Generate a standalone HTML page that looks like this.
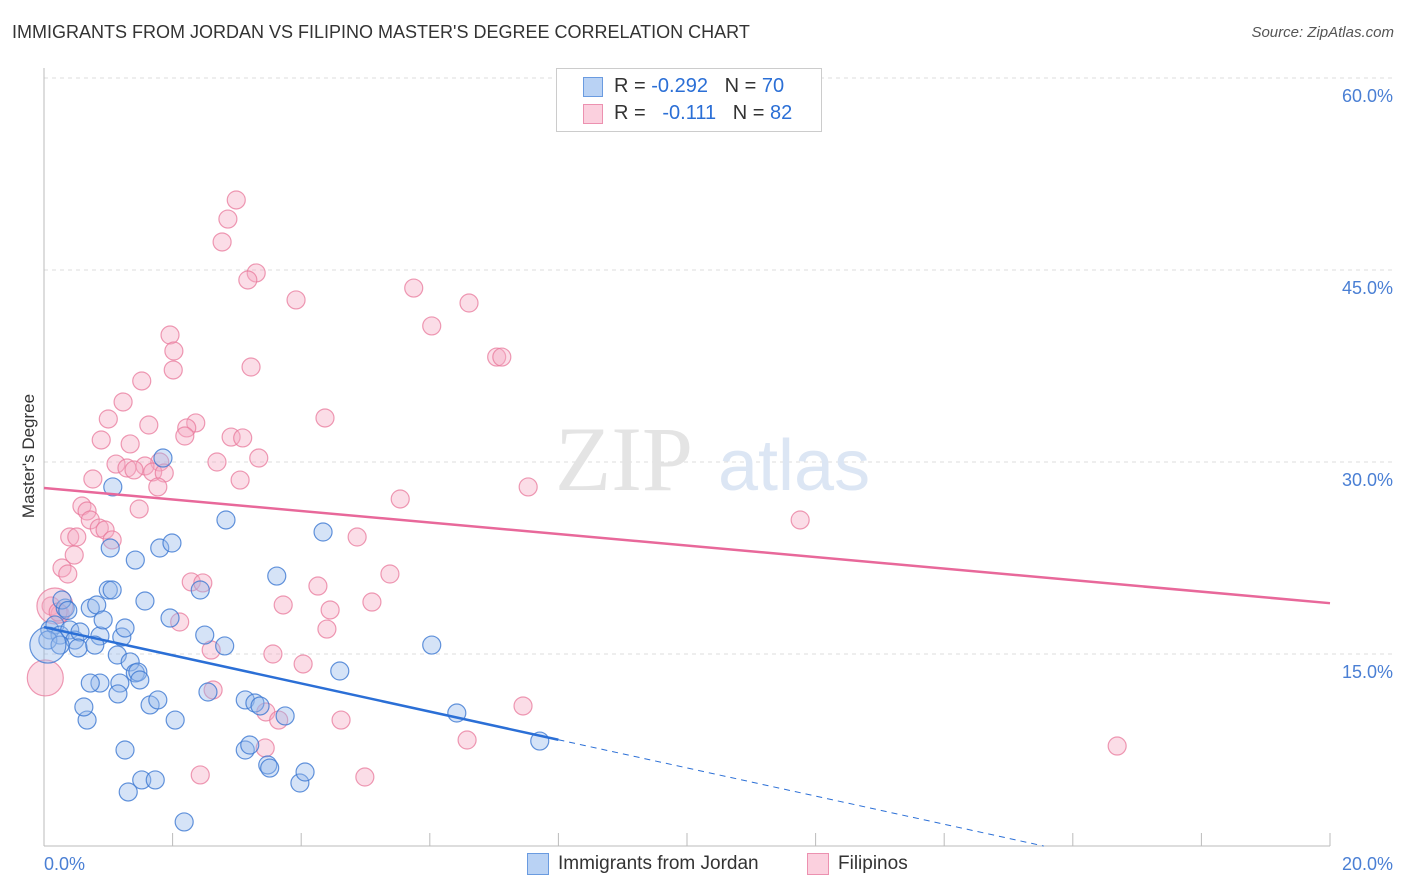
<!DOCTYPE html>
<html><head><meta charset="utf-8"><style>
body{margin:0;background:#fff;font-family:"Liberation Sans",sans-serif;}
#wrap{position:relative;width:1406px;height:892px;overflow:hidden;}
.t{position:absolute;white-space:nowrap;}
</style></head><body>
<div id="wrap">
<div class="t" style="left:12px;top:22px;font-size:18px;color:#333;">IMMIGRANTS FROM JORDAN VS FILIPINO MASTER'S DEGREE CORRELATION CHART</div>
<div class="t" style="right:12px;top:24px;font-size:15px;color:#555;font-style:italic;">Source: ZipAtlas.com</div>
<svg id="svg" width="1406" height="892" style="position:absolute;left:0;top:0"></svg>
</div>
<script>
const xTicks=[0,20];
const yTicks=[15,30,45,60];
const blueX=[0.09,0.17,0.25,0.06,0.33,0.28,0.40,0.48,0.56,0.53,0.72,0.82,0.87,0.79,0.92,1.00,1.03,1.07,1.06,1.14,1.21,1.26,1.18,1.34,1.42,1.46,1.49,1.57,1.42,1.65,1.77,1.80,1.85,1.96,1.99,2.04,2.43,2.50,2.55,2.81,2.83,3.13,3.13,3.20,3.28,3.36,3.48,3.51,3.62,3.75,3.98,4.06,4.34,4.60,6.03,6.42,7.71,1.26,1.52,1.73,1.31,2.18,0.67,0.62,0.87,0.72,1.15,0.25,0.06,0.37];
const blueY=[16.88,17.27,16.48,16.09,18.59,19.22,16.88,16.09,16.72,15.47,18.59,18.83,16.41,15.70,17.66,20.00,23.28,28.05,20.00,14.92,16.33,17.03,12.73,14.38,13.52,13.59,12.97,19.14,22.34,11.02,11.41,23.28,30.31,17.81,23.67,9.84,20.00,16.48,12.03,15.63,25.47,11.41,7.50,7.89,11.17,10.94,6.33,6.09,21.09,10.16,4.92,5.78,24.53,13.67,15.70,10.39,8.20,7.50,5.16,5.16,4.22,1.88,9.84,10.86,12.73,12.73,11.88,15.70,15.70,18.4];
const pinkX=[2.99,2.86,2.77,3.30,3.17,3.92,5.75,6.61,6.03,7.04,7.12,1.96,2.02,2.01,3.22,1.52,1.23,1.00,4.37,2.36,2.22,1.63,2.19,2.91,3.09,0.89,1.34,3.34,2.69,1.80,1.12,1.57,1.29,1.40,1.69,1.87,1.77,3.05,0.76,7.53,5.54,0.59,0.67,1.48,0.72,11.76,0.86,0.95,0.40,0.51,1.06,4.87,0.47,0.28,0.37,5.38,2.29,2.47,4.26,0.11,0.25,3.72,4.45,5.10,2.11,4.40,2.60,3.56,4.03,2.63,3.45,3.65,4.62,7.45,6.58,3.44,2.43,4.99,16.69,0.02,0.17,0.22];
const pinkY=[50.47,48.98,47.19,44.77,44.22,42.66,43.59,42.42,40.63,38.20,38.20,39.92,38.67,37.19,37.42,36.33,34.69,33.36,33.44,33.05,32.66,32.89,32.03,31.95,31.88,31.72,31.41,30.31,30.00,30.00,29.84,29.69,29.53,29.38,29.22,29.14,28.05,28.59,28.67,28.05,27.11,26.56,26.17,26.33,25.47,25.47,24.84,24.69,24.14,24.14,23.91,24.14,22.73,21.72,21.25,21.25,20.63,20.55,20.31,18.75,18.13,18.83,18.44,19.06,17.50,16.95,15.31,15.00,14.22,12.19,10.47,9.84,9.84,10.94,8.28,7.66,5.55,5.39,7.81,13.13,18.75,18.28];
const blueTrend=[17.1,-1.1];
const pinkTrend=[27.97,-0.45];
const X=v=>44+v/20*1286;
const Y=v=>846-v/15*192;
const svg=document.getElementById('svg');
const NS='http://www.w3.org/2000/svg';
function mk(tag,a){const e=document.createElementNS(NS,tag);for(const k in a)e.setAttribute(k,a[k]);svg.appendChild(e);return e;}
// gridlines
yTicks.forEach(t=>{
 const g=mk('line',{x1:44,x2:1394,y1:Y(t),y2:Y(t),stroke:'#ddd','stroke-dasharray':'4,4'});
 
 
 const tx=mk('text',{x:1393,y:Y(t)+24,'text-anchor':'end','font-size':18,fill:'#4a7fd4','font-family':'Liberation Sans'});
 tx.textContent=t.toFixed(1)+'%';
 
 
});
const ax=mk('line',{x1:44,x2:44,y1:68,y2:846,stroke:'#bbb'});


const bx=mk('line',{x1:44,x2:1330,y1:846,y2:846,stroke:'#bbb'});


for(let i=1;i<=10;i++){const tk=mk('line',{x1:X(i*2),x2:X(i*2),y1:833,y2:846,stroke:'#bbb'});
 
 }
xTicks.forEach((t,i)=>{const tx=mk('text',{x:i?1393:44,y:870,'text-anchor':i?'end':'start','font-size':18,fill:'#4a7fd4','font-family':'Liberation Sans'});
 tx.textContent=t.toFixed(1)+'%';
 
 });
const yl=mk('text',{x:34,y:456,transform:'rotate(-90 34 456)','text-anchor':'middle','font-size':17,fill:'#333','font-family':'Liberation Sans'});
yl.textContent="Master's Degree";


// watermark
const wm=mk('text',{x:555,y:490,'font-size':92,fill:'#e4e4e4','font-family':'Liberation Serif'});wm.textContent='ZIP';


const wm2=mk('text',{x:718,y:490,'font-size':72,fill:'#dce6f4','font-family':'Liberation Sans'});wm2.textContent='atlas';


function dots(xs,ys,fill,stroke,name){xs.forEach((v,i)=>{
 const big=(name==='pink-point'&&i>=79&&i<=80)||(name==='blue-point'&&i===68);
 const c=mk('circle',{cx:X(v),cy:Y(ys[i]),r:big?18:9,fill:fill,stroke:stroke,'stroke-width':1.2});
 
 });}
dots(pinkX,pinkY,'rgba(246,170,195,0.4)','rgba(232,120,155,0.75)','pink-point');
dots(blueX,blueY,'rgba(150,185,235,0.4)','rgba(60,120,210,0.8)','blue-point');
const bt=v=>blueTrend[0]+blueTrend[1]*v;
const pt=v=>pinkTrend[0]+pinkTrend[1]*v;
const l1=mk('line',{x1:X(0),y1:Y(bt(0)),x2:X(8),y2:Y(bt(8)),stroke:'#2b6fd6','stroke-width':2.5});


const l2=mk('line',{x1:X(8),y1:Y(bt(8)),x2:X(15.55),y2:Y(bt(15.55)),stroke:'#2b6fd6','stroke-width':1,'stroke-dasharray':'6,5'});


const l3=mk('line',{x1:X(0),y1:Y(pt(0)),x2:X(20),y2:Y(pt(20)),stroke:'#e8689a','stroke-width':2.5});


</script>
<div class="t" style="left:556px;top:68px;width:264px;height:62px;border:1px solid #ccc;background:#fff;font-size:20px;">
 <div style="position:absolute;left:26px;top:8px;width:18px;height:18px;background:#b9d2f4;border:1px solid #6a9be0;"></div>
 <div class="t" style="left:57px;top:6px;color:#333">R = <span style="color:#2b6fd6">-0.292</span>&nbsp;&nbsp;&nbsp;N = <span style="color:#2b6fd6">70</span></div>
 <div style="position:absolute;left:26px;top:35px;width:18px;height:18px;background:#fbd0de;border:1px solid #ec91b0;"></div>
 <div class="t" style="left:57px;top:33px;color:#333">R = &nbsp;&nbsp;<span style="color:#2b6fd6">-0.111</span>&nbsp;&nbsp;&nbsp;N = <span style="color:#2b6fd6">82</span></div>
</div>
<div class="t" style="left:527px;top:853px;width:20px;height:20px;background:#b9d2f4;border:1px solid #6a9be0;"></div>
<div class="t" style="left:558px;top:853px;font-size:19px;color:#333">Immigrants from Jordan</div>
<div class="t" style="left:807px;top:853px;width:20px;height:20px;background:#fbd0de;border:1px solid #ec91b0;"></div>
<div class="t" style="left:838px;top:853px;font-size:19px;color:#333">Filipinos</div>
</body></html>
